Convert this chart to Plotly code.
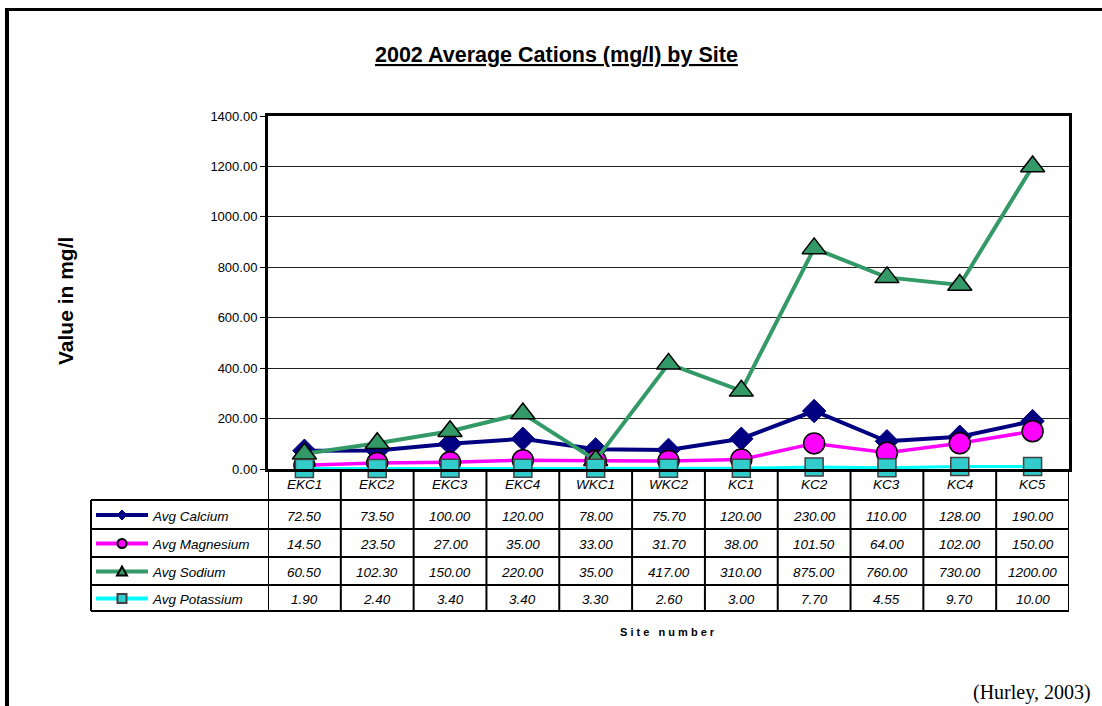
import plotly.graph_objects as go

sites = ["EKC1", "EKC2", "EKC3", "EKC4", "WKC1", "WKC2", "KC1", "KC2", "KC3", "KC4", "KC5"]
calcium = [72.50, 73.50, 100.00, 120.00, 78.00, 75.70, 120.00, 230.00, 110.00, 128.00, 190.00]
magnesium = [14.50, 23.50, 27.00, 35.00, 33.00, 31.70, 38.00, 101.50, 64.00, 102.00, 150.00]
sodium = [60.50, 102.30, 150.00, 220.00, 35.00, 417.00, 310.00, 875.00, 760.00, 730.00, 1200.00]
potassium = [1.90, 2.40, 3.40, 3.40, 3.30, 2.60, 3.00, 7.70, 4.55, 9.70, 10.00]
series_names = ["Avg Calcium", "Avg Magnesium", "Avg Sodium", "Avg Potassium"]
y_ticks = [0, 200, 400, 600, 800, 1000, 1200, 1400]

W, H = 1102, 706
L, R, T, B = 268, 33, 116, 237
PW = W - L - R
PH = H - T - B
FONT = "Liberation Sans, Arial, sans-serif"


def xp(px):
    return (px - L) / PW


def yp(py):
    return (H - B - py) / PH


series = [
    dict(name=series_names[0], y=calcium, line="#000080", lw=4, sym="diamond", size=18,
         fill="#000080", mline="#000080", mlw=1),
    dict(name=series_names[1], y=magnesium, line="#FF00FF", lw=3.5, sym="circle", size=21,
         fill="#FF00FF", mline="#000000", mlw=1.5),
    dict(name=series_names[2], y=sodium, line="#339966", lw=4, sym="triangle-up", size=21,
         fill="#339966", mline="#000000", mlw=1.5),
    dict(name=series_names[3], y=potassium, line="#00FFFF", lw=3, sym="square", size=18,
         fill="#33CCCC", mline="#404040", mlw=1.5),
]

fig = go.Figure()
for s in series:
    fig.add_trace(go.Scatter(
        x=sites, y=s["y"], name=s["name"], mode="lines+markers",
        line=dict(color=s["line"], width=s["lw"]),
        marker=dict(symbol=s["sym"], size=s["size"], color=s["fill"],
                    line=dict(color=s["mline"], width=s["mlw"])),
        cliponaxis=False, showlegend=False,
    ))

shapes = []
annotations = []

# outer frame
shapes.append(dict(type="line", xref="paper", yref="paper", x0=xp(5), x1=xp(W + 5),
                   y0=yp(9.5), y1=yp(9.5), line=dict(color="black", width=3)))
shapes.append(dict(type="line", xref="paper", yref="paper", x0=xp(7), x1=xp(7),
                   y0=yp(8), y1=yp(H + 5), line=dict(color="black", width=4)))

# data table
row_lines = [500, 529, 557, 585, 611]
tbl_left, tbl_right = 91, 1069
for ry in row_lines:
    shapes.append(dict(type="line", xref="paper", yref="paper", x0=xp(tbl_left), x1=xp(tbl_right),
                       y0=yp(ry), y1=yp(ry), line=dict(color="black", width=2)))
shapes.append(dict(type="line", xref="paper", yref="paper", x0=xp(tbl_left), x1=xp(tbl_left),
                   y0=yp(500), y1=yp(611), line=dict(color="black", width=2)))
for i in range(len(sites) + 1):
    shapes.append(dict(type="line", xref="x", yref="paper", x0=i - 0.5, x1=i - 0.5,
                       y0=yp(469), y1=yp(611), line=dict(color="black", width=2)))

# category labels
for s_name in sites:
    annotations.append(dict(x=s_name, xref="x", y=yp(484), yref="paper", text="<i>%s</i>" % s_name,
                            showarrow=False, font=dict(family=FONT, size=13.5, color="black"),
                            xanchor="center", yanchor="middle"))

# rows: legend keys + values
row_centers = [(row_lines[k] + row_lines[k + 1]) / 2 + 1.5 for k in range(4)]
for k, s in enumerate(series):
    cy = row_centers[k]
    lcy = cy - 1
    shapes.append(dict(type="line", xref="paper", yref="paper", x0=xp(96), x1=xp(148),
                       y0=yp(lcy), y1=yp(lcy), line=dict(color=s["line"], width=4)))
    mx = 122
    if s["sym"] == "diamond":
        r = 5
        path = "M %f %f L %f %f L %f %f L %f %f Z" % (
            xp(mx - r), yp(lcy), xp(mx), yp(lcy - r), xp(mx + r), yp(lcy), xp(mx), yp(lcy + r))
        shapes.append(dict(type="path", xref="paper", yref="paper", path=path,
                           fillcolor=s["fill"], line=dict(color=s["fill"], width=1)))
    elif s["sym"] == "circle":
        r = 4.5
        shapes.append(dict(type="circle", xref="paper", yref="paper", x0=xp(mx - r), x1=xp(mx + r),
                           y0=yp(lcy - r), y1=yp(lcy + r), fillcolor=s["fill"],
                           line=dict(color="black", width=2)))
    elif s["sym"] == "triangle-up":
        r = 5
        path = "M %f %f L %f %f L %f %f Z" % (
            xp(mx - r), yp(lcy + r - 1), xp(mx), yp(lcy - r), xp(mx + r), yp(lcy + r - 1))
        shapes.append(dict(type="path", xref="paper", yref="paper", path=path,
                           fillcolor=s["fill"], line=dict(color="black", width=2)))
    else:
        r = 4.5
        shapes.append(dict(type="rect", xref="paper", yref="paper", x0=xp(mx - r), x1=xp(mx + r),
                           y0=yp(lcy - r), y1=yp(lcy + r), fillcolor=s["fill"],
                           line=dict(color="#404040", width=2)))
    annotations.append(dict(x=xp(150), xref="paper", y=yp(cy), yref="paper",
                            text="<i>%s</i>" % s["name"], showarrow=False,
                            font=dict(family=FONT, size=13.5, color="black"),
                            xanchor="left", yanchor="middle"))
    for site, v in zip(sites, s["y"]):
        annotations.append(dict(x=site, xref="x", y=yp(cy), yref="paper",
                                text="<i>%.2f</i>" % v, showarrow=False,
                                font=dict(family=FONT, size=13.5, color="black"),
                                xanchor="center", yanchor="middle"))

# titles and source
annotations.append(dict(x=xp(556), xref="paper", y=yp(55), yref="paper",
                        text="<b><u>2002 Average Cations (mg/l) by Site</u></b>", showarrow=False,
                        font=dict(family=FONT, size=21.5, color="black"),
                        xanchor="center", yanchor="middle"))
annotations.append(dict(x=xp(65), xref="paper", y=yp(301), yref="paper",
                        text="<b>Value in mg/l</b>", showarrow=False, textangle=-90,
                        font=dict(family=FONT, size=21, color="black"),
                        xanchor="center", yanchor="middle"))
annotations.append(dict(x=xp(667), xref="paper", y=yp(632), yref="paper",
                        text="<b>S i t e   n u m b e r</b>", showarrow=False,
                        font=dict(family=FONT, size=11, color="black"),
                        xanchor="center", yanchor="middle"))
annotations.append(dict(x=xp(1093), xref="paper", y=yp(692), yref="paper",
                        text="(Hurley, 2003)", showarrow=False,
                        font=dict(family="Liberation Serif, Times New Roman, serif", size=20, color="black"),
                        xanchor="right", yanchor="middle"))

fig.update_layout(
    width=W, height=H,
    margin=dict(l=L, r=R, t=T, b=B, pad=0),
    paper_bgcolor="white", plot_bgcolor="white",
    font=dict(family=FONT, size=12, color="black"),
    shapes=shapes, annotations=annotations,
    showlegend=False,
)
fig.update_xaxes(type="category", categoryorder="array", categoryarray=sites,
                 range=[-0.5, len(sites) - 0.5], showticklabels=False, ticks="",
                 showgrid=False, showline=True, linecolor="black", linewidth=3, mirror=True,
                 zeroline=False)
fig.update_yaxes(range=[0, 1400], tickvals=y_ticks, ticktext=["%.2f" % v for v in y_ticks],
                 ticks="outside", ticklen=5, tickwidth=1, tickcolor="black",
                 tickfont=dict(family=FONT, size=13, color="black"),
                 showgrid=True, gridcolor="#202020", gridwidth=1,
                 showline=True, linecolor="black", linewidth=3, mirror=True, zeroline=False)

fig.write_html("out.html")
